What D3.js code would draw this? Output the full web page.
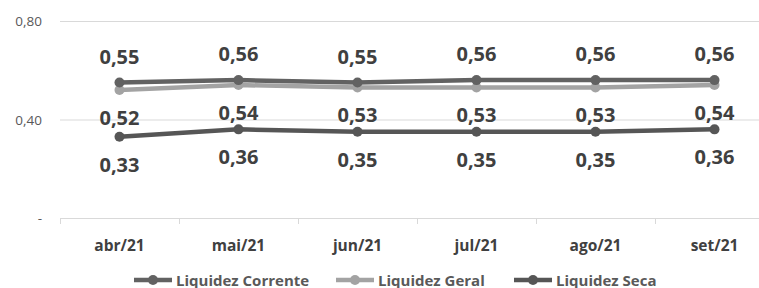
<!DOCTYPE html>
<html>
<head>
<meta charset="utf-8">
<script src="https://cdn.jsdelivr.net/npm/d3@7"></script>
<style>
  body { margin: 0; background: #fff; }
  svg { display: block; font-family: "Open Sans", sans-serif; }
</style>
</head>
<body>
<div id="chart"></div>
<script>
const months = ['abr/21', 'mai/21', 'jun/21', 'jul/21', 'ago/21', 'set/21'];
const liqCorrente = [0.55, 0.56, 0.55, 0.56, 0.56, 0.56];
const liqGeral = [0.52, 0.54, 0.53, 0.53, 0.53, 0.54];
const liqSeca = [0.33, 0.36, 0.35, 0.35, 0.35, 0.36];
const yTicks = [0, 0.4, 0.8];

const series = [
  {name: 'Liquidez Corrente', values: liqCorrente, color: '#626262', dy: -19},
  {name: 'Liquidez Geral', values: liqGeral, color: '#a3a3a3', dy: 35},
  {name: 'Liquidez Seca', values: liqSeca, color: '#565656', dy: 35}
];

const width = 759, height = 288;
const svg = d3.select('#chart').append('svg')
  .attr('width', width).attr('height', height);

const x = d3.scaleBand().domain(months).range([60, 774]);
const y = d3.scaleLinear().domain([0, 0.8]).range([218, 21]);

const fmt = v => v === 0 ? '-' : d3.format('.2f')(v).replace('.', ',');

// gridlines
svg.append('g').selectAll('line')
  .data(yTicks.filter(d => d > 0))
  .enter().append('line')
  .attr('x1', 60).attr('x2', width)
  .attr('y1', d => y(d) + 0.5).attr('y2', d => y(d) + 0.5)
  .attr('stroke', '#d9d9d9').attr('stroke-width', 1);

// y labels
svg.append('g').selectAll('text')
  .data(yTicks)
  .enter().append('text')
  .attr('x', 42).attr('y', d => y(d) + 5)
  .attr('text-anchor', 'end')
  .attr('font-size', 13.5)
  .attr('fill', '#595959')
  .text(fmt);

// x axis
const xAxis = svg.append('g')
  .attr('transform', 'translate(0,' + (y(0) + 0.5) + ')')
  .call(d3.axisBottom(x).tickSize(0).tickPadding(0).tickFormat(''));
xAxis.select('.domain').attr('stroke', '#d9d9d9').attr('d', 'M60,0H' + width);
xAxis.selectAll('.tick').remove();
svg.append('g').selectAll('line')
  .data(months.concat(['end']))
  .enter().append('line')
  .attr('x1', (d, i) => 60.5 + i * x.step()).attr('x2', (d, i) => 60.5 + i * x.step())
  .attr('y1', y(0)).attr('y2', y(0) + 6)
  .attr('stroke', '#d9d9d9');

svg.append('g').selectAll('text')
  .data(months)
  .enter().append('text')
  .attr('x', d => x(d) + x.bandwidth() / 2)
  .attr('y', 251)
  .attr('text-anchor', 'middle')
  .attr('font-size', 15.5)
  .attr('font-weight', 'bold')
  .attr('fill', '#404040')
  .text(d => d);

const cx = d => x(d) + x.bandwidth() / 2;
const line = d3.line()
  .x((d, i) => cx(months[i]))
  .y(d => y(d));

// draw lines, Geral first so Corrente sits on top
[series[1], series[0], series[2]].forEach(s => {
  const g = svg.append('g');
  g.append('path')
    .datum(s.values)
    .attr('d', line)
    .attr('fill', 'none')
    .attr('stroke', s.color)
    .attr('stroke-width', 4.5)
    .attr('stroke-linecap', 'round');
  g.selectAll('circle')
    .data(s.values)
    .enter().append('circle')
    .attr('cx', (d, i) => cx(months[i]))
    .attr('cy', d => y(d))
    .attr('r', 5)
    .attr('fill', s.color);
});

// data labels
series.forEach(s => {
  svg.append('g').selectAll('text')
    .data(s.values)
    .enter().append('text')
    .attr('x', (d, i) => cx(months[i]))
    .attr('y', d => y(d) + s.dy)
    .attr('text-anchor', 'middle')
    .attr('font-size', 20)
    .attr('font-weight', 'bold')
    .attr('fill', '#404040')
    .text(fmt);
});

// legend
const legendX = [134, 336, 514];
const legend = svg.append('g').selectAll('g')
  .data(series)
  .enter().append('g')
  .attr('transform', (d, i) => 'translate(' + legendX[i] + ',280)');
legend.append('line')
  .attr('x1', 0).attr('x2', 38)
  .attr('stroke', d => d.color).attr('stroke-width', 4.5);
legend.append('circle')
  .attr('cx', 19).attr('r', 5)
  .attr('fill', d => d.color);
legend.append('text')
  .attr('x', 42).attr('y', 5.5)
  .attr('font-size', 15)
  .attr('font-weight', 'bold')
  .attr('fill', '#595959')
  .text(d => d.name);
</script>
</body>
</html>
